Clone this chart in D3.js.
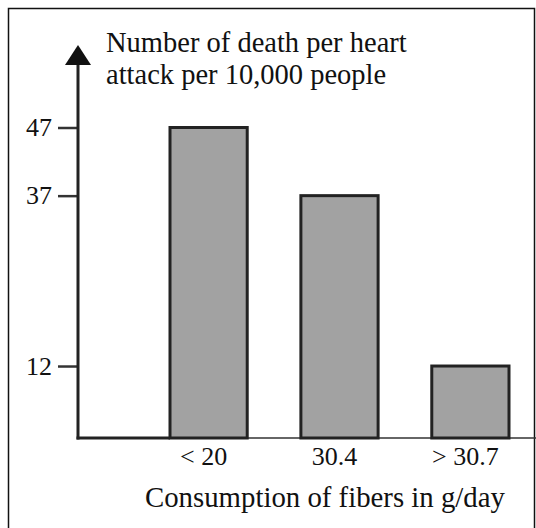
<!DOCTYPE html>
<html>
<head>
<meta charset="utf-8">
<script src="https://cdn.jsdelivr.net/npm/d3@7"></script>
<style>
  body { margin: 0; background: #fff; }
</style>
</head>
<body>
<svg id="chart" width="536" height="528"></svg>
<script>
const categories = ['< 20', '30.4', '> 30.7'];
const deaths = [47, 37, 12];
const tickValues = [47, 37, 12];
const yTitle = ['Number of death per heart', 'attack per 10,000 people'];
const xTitle = 'Consumption of fibers in g/day';

const font = "'Liberation Serif', 'Times New Roman', 'DejaVu Serif', serif";
const svg = d3.select('#chart').style('font-family', font);
const baseY = 438;
const axisX = 78;

// frame
svg.append('rect')
  .attr('x', 8.5).attr('y', 8.5)
  .attr('width', 526).attr('height', 530)
  .attr('fill', 'none').attr('stroke', '#111').attr('stroke-width', 1.5);

const x = d3.scaleBand()
  .domain(categories)
  .range([170, 509])
  .paddingInner(0.41)
  .paddingOuter(0);

// drawn by hand in the original, so a fitted scale lines the bars up best
const y = d3.scaleLinear()
  .domain([0, 47])
  .range([447.8, 127.5]);

// baseline
svg.append('line')
  .attr('x1', axisX).attr('x2', 536)
  .attr('y1', baseY).attr('y2', baseY)
  .attr('stroke', '#333').attr('stroke-width', 1.5);
svg.append('line')
  .attr('x1', axisX - 1.5).attr('x2', x(categories[0]))
  .attr('y1', baseY).attr('y2', baseY)
  .attr('stroke', '#222').attr('stroke-width', 3);

svg.append('g')
  .selectAll('rect')
  .data(deaths)
  .join('rect')
    .attr('x', (d, i) => x(categories[i]))
    .attr('y', d => y(d))
    .attr('width', x.bandwidth())
    .attr('height', d => baseY - y(d))
    .attr('fill', '#a2a2a2')
    .attr('stroke', '#222')
    .attr('stroke-width', 3);

// y axis
const yAxis = svg.append('g')
  .attr('transform', `translate(${axisX},0)`)
  .call(d3.axisLeft(y).tickValues(tickValues).tickSize(20).tickPadding(6));
yAxis.attr('font-family', font).attr('font-size', 26);
yAxis.select('.domain').remove();
yAxis.selectAll('.tick line').attr('stroke', '#333').attr('stroke-width', 2.5);
yAxis.selectAll('.tick text').attr('fill', '#111');

svg.append('line')
  .attr('x1', axisX).attr('x2', axisX)
  .attr('y1', 60).attr('y2', baseY + 1.5)
  .attr('stroke', '#222').attr('stroke-width', 3);
svg.append('path')
  .attr('d', `M${axisX},45 L${axisX - 13},65 L${axisX + 13},65 Z`)
  .attr('fill', '#111');

// category labels
svg.append('g')
  .selectAll('text')
  .data(categories)
  .join('text')
    .attr('x', d => x(d) + x.bandwidth() / 2 - 5)
    .attr('y', 465)
    .attr('text-anchor', 'middle')
    .attr('font-family', font)
    .attr('font-size', 26)
    .attr('fill', '#111')
    .text(d => d);

svg.append('g')
  .selectAll('text')
  .data(yTitle)
  .join('text')
    .attr('x', 106)
    .attr('y', (d, i) => 52 + i * 32)
    .attr('font-family', font)
    .attr('font-size', 28.5)
    .attr('fill', '#111')
    .text(d => d);

svg.append('text')
  .attr('x', 145)
  .attr('y', 507)
  .attr('font-family', font)
  .attr('font-size', 28.8)
  .attr('fill', '#111')
  .text(xTitle);
</script>
</body>
</html>
